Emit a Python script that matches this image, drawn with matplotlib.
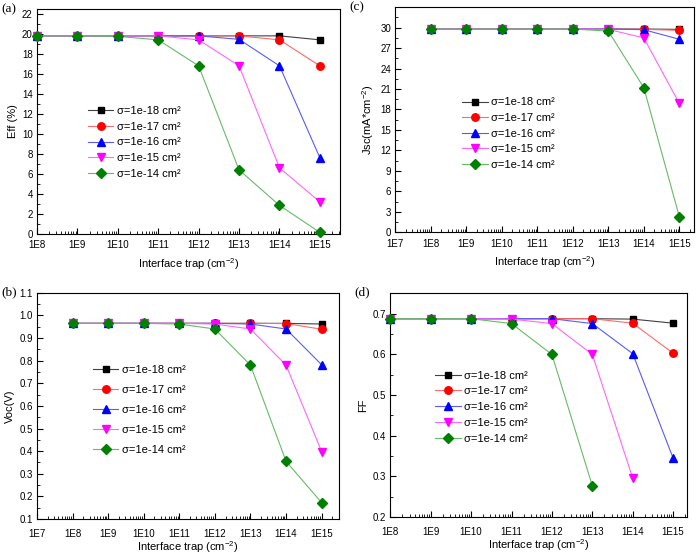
import matplotlib.pyplot as plt
from matplotlib.ticker import LogLocator, MultipleLocator, NullFormatter

plt.rcParams['font.family'] = ['Liberation Sans', 'DejaVu Sans']
plt.rcParams['mathtext.default'] = 'regular'

# densidad de trampas en la interfaz (cm^-2)
trap = [1e8, 1e9, 1e10, 1e11, 1e12, 1e13, 1e14, 1e15]
sigma_labels = ['σ=1e-18 cm²', 'σ=1e-17 cm²', 'σ=1e-16 cm²', 'σ=1e-15 cm²', 'σ=1e-14 cm²']

# (a) eficiencia (%)
eff_18 = [19.8, 19.8, 19.8, 19.8, 19.8, 19.8, 19.8, 19.4]
eff_17 = [19.8, 19.8, 19.8, 19.8, 19.8, 19.8, 19.4, 16.8]
eff_16 = [19.8, 19.8, 19.8, 19.8, 19.8, 19.45, 16.8, 7.6]
eff_15 = [19.8, 19.8, 19.8, 19.8, 19.4, 16.8, 6.6, 3.2]
eff_14 = [19.8, 19.8, 19.75, 19.4, 16.8, 6.4, 2.85, 0.15]

# (b) Voc (V)
voc_18 = [0.965, 0.965, 0.965, 0.965, 0.965, 0.965, 0.965, 0.962]
voc_17 = [0.965, 0.965, 0.965, 0.965, 0.965, 0.965, 0.964, 0.939]
voc_16 = [0.965, 0.965, 0.965, 0.965, 0.965, 0.962, 0.94, 0.782]
voc_15 = [0.965, 0.965, 0.965, 0.965, 0.962, 0.94, 0.78, 0.398]
voc_14 = [0.965, 0.965, 0.965, 0.962, 0.94, 0.78, 0.355, 0.172]

# (c) Jsc (mA/cm2)
jsc_18 = [29.8, 29.8, 29.8, 29.8, 29.8, 29.8, 29.8, 29.75]
jsc_17 = [29.8, 29.8, 29.8, 29.8, 29.8, 29.8, 29.75, 29.6]
jsc_16 = [29.8, 29.8, 29.8, 29.8, 29.8, 29.8, 29.7, 28.3]
jsc_15 = [29.8, 29.8, 29.8, 29.8, 29.8, 29.75, 28.5, 18.9]
jsc_14 = [29.8, 29.8, 29.8, 29.8, 29.8, 29.5, 21.2, 2.3]

# (d) FF (los dos ultimos casos no tienen datos al final)
ff_18 = [0.688, 0.688, 0.688, 0.688, 0.688, 0.688, 0.687, 0.677]
ff_17 = [0.688, 0.688, 0.688, 0.688, 0.688, 0.688, 0.677, 0.603]
ff_16 = [0.688, 0.688, 0.688, 0.688, 0.688, 0.676, 0.602, 0.345]
ff_15 = [0.688, 0.688, 0.688, 0.687, 0.676, 0.600, 0.296]
ff_14 = [0.688, 0.688, 0.688, 0.676, 0.600, 0.277]

line_cols = ['#404040', '#ff6a6a', '#5a5aff', '#ff66ff', '#66bb66']
mark_cols = ['black', 'red', 'blue', 'magenta', 'green']
markers = ['s', 'o', '^', 'v', 'D']
msizes = [4.8, 5.4, 5.4, 5.4, 4.6]

fig = plt.figure(figsize=(6.97, 5.53), dpi=100)

# etiqueta, pos etiqueta (px), caja ejes, series, ylabel, xlim, ylim, paso y, minor y, yticks,
# pos leyenda, espaciado leyenda, pad ticks x, labelpad x
paneles = [
    ('(a)', (1, 9), [0.053, 0.577, 0.435, 0.407], [eff_18, eff_17, eff_16, eff_15, eff_14], 'Eff (%)',
     (1e8, 10**15.5), (0, 22.5), 2, 1, range(0, 23, 2), (0.168, 0.567), 0.5, 4.5, 4),
    ('(c)', (349, 7), [0.567, 0.580, 0.429, 0.407], [jsc_18, jsc_17, jsc_16, jsc_15, jsc_14], r'Jsc(mA*cm$^{-2}$)',
     (1e7, 10**15.42), (0, 33), 3, 1.5, range(0, 31, 3), (0.224, 0.599), 0.5, 4.5, 4),
    ('(b)', (1, 292), [0.053, 0.0615, 0.433, 0.409], [voc_18, voc_17, voc_16, voc_15, voc_14], 'Voc(V)',
     (1e7, 10**15.48), (0.1, 1.1), 0.1, 0.05, [i / 10 for i in range(1, 12)], (0.185, 0.682), 0.9, 7, 0),
    ('(d)', (354, 292), [0.560, 0.065, 0.426, 0.405], [ff_18, ff_17, ff_16, ff_15, ff_14], 'FF',
     (1e8, 10**15.35), (0.2, 0.751), 0.1, 0.05, [0.2, 0.3, 0.4, 0.5, 0.6, 0.7], (0.152, 0.654), 0.52, 7, 0),
]

for (etiqueta, lpos, pos, series, ylab, xlim, ylim, ymaj, ymin, yticks,
     legpos, lspace, xpad, xlpad) in paneles:
    ax = fig.add_axes(pos)
    for i, ys in enumerate(series):
        ax.plot(trap[:len(ys)], ys, color=line_cols[i], lw=0.8, marker=markers[i],
                ms=msizes[i], mfc=mark_cols[i], mec=mark_cols[i], label=sigma_labels[i],
                clip_on=False, zorder=3 + i)
    ax.set_xscale('log')
    ax.set_xlim(*xlim)
    ax.set_ylim(*ylim)
    xt = [10.0 ** k for k in range(7, 16) if 10.0 ** k >= xlim[0]]
    ax.set_xticks(xt)
    ax.set_xticklabels(['1E%d' % k for k in range(7, 16) if 10.0 ** k >= xlim[0]])
    ax.xaxis.set_minor_locator(LogLocator(base=10, subs=range(2, 10), numticks=20))
    ax.xaxis.set_minor_formatter(NullFormatter())
    ax.set_yticks(list(yticks))
    if ymaj < 1:
        ax.set_yticklabels(['%.1f' % v for v in yticks])
    ax.yaxis.set_minor_locator(MultipleLocator(ymin))
    ax.tick_params(which='major', direction='in', length=4, width=0.8, labelsize=7, pad=3)
    ax.tick_params(axis='x', which='major', pad=xpad)
    ax.tick_params(which='minor', direction='in', length=2, width=0.6)
    for s in ax.spines.values():
        s.set_linewidth(0.8)
    ax.set_xlabel(r'Interface trap (cm$^{-2}$)', fontsize=8, labelpad=xlpad)
    ax.set_ylabel(ylab, fontsize=8, labelpad=3)
    ax.legend(loc='upper left', bbox_to_anchor=legpos, frameon=False, fontsize=8,
              handlelength=2.3, handletextpad=0.3, labelspacing=lspace,
              borderpad=0, borderaxespad=0)
    fig.text(lpos[0] / 697, 1 - lpos[1] / 553, etiqueta, fontsize=9.5,
             family='Liberation Serif', va='center', ha='left')

fig.savefig('out.png', dpi=100)
